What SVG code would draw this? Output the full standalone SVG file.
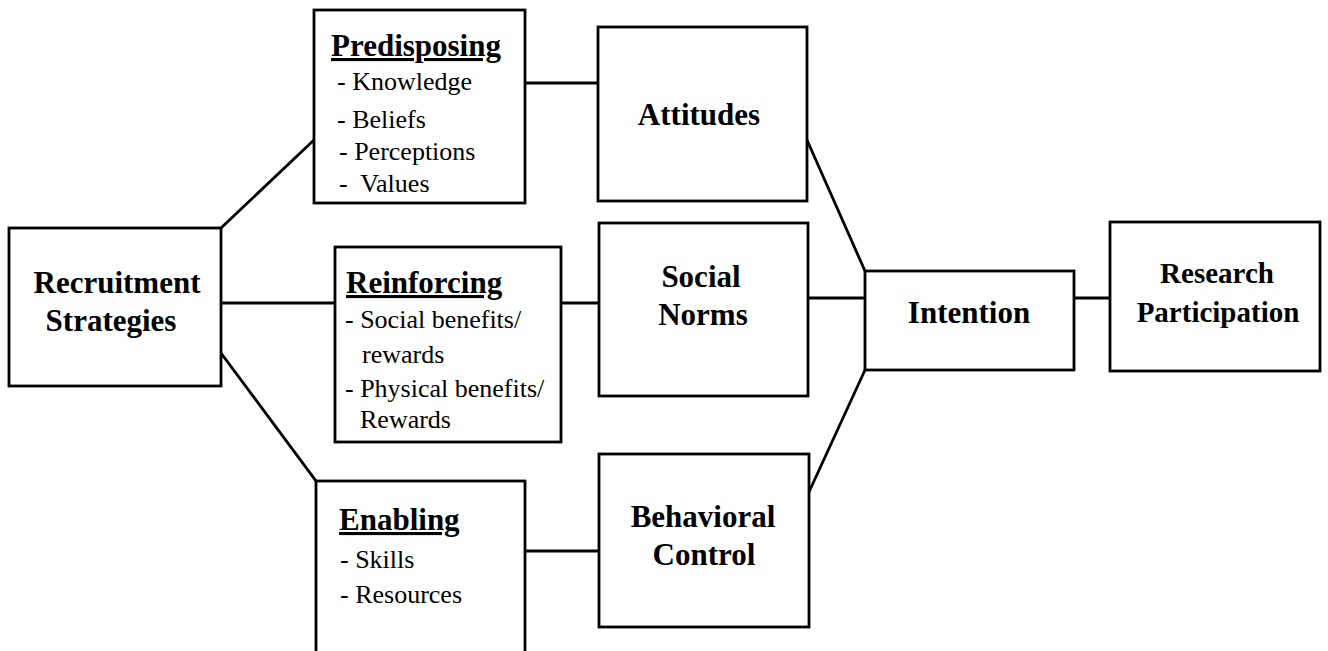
<svg xmlns="http://www.w3.org/2000/svg" width="1328" height="651" viewBox="0 0 1328 651">
<style>
rect.box{fill:#fff;stroke:#000;stroke-width:2.8}
.conn line{stroke:#000;stroke-width:2.8;stroke-linecap:square}
text{font-family:"Liberation Serif","Times New Roman",serif;fill:#000}
.big{font-size:31px;font-weight:bold;text-anchor:middle}
.rp{font-size:29px;font-weight:bold;text-anchor:middle}
.head{font-size:31px;font-weight:bold;text-decoration:underline}
.item{font-size:26px}
</style>
<rect width="1328" height="651" fill="#fff"/>
<g class="conn" id="connectors">
<line x1="221" y1="228" x2="314" y2="140"/>
<line x1="221" y1="303" x2="335" y2="303"/>
<line x1="221" y1="353" x2="316" y2="481"/>
<line x1="525" y1="83" x2="598" y2="83"/>
<line x1="561" y1="303" x2="599" y2="303"/>
<line x1="525" y1="551" x2="599" y2="551"/>
<line x1="807" y1="140" x2="865" y2="271"/>
<line x1="808" y1="298" x2="865" y2="298"/>
<line x1="809" y1="492" x2="865" y2="370"/>
<line x1="1074" y1="298" x2="1110" y2="298"/>
</g>
<g id="recruitment">
<rect class="box" x="9" y="228" width="212" height="158"/>
<text class="big" x="117" y="293">Recruitment</text>
<text class="big" x="111" y="331">Strategies</text>
</g>
<g id="predisposing">
<rect class="box" x="314" y="10" width="211" height="193"/>
<text class="head" x="331" y="56">Predisposing</text>
<text class="item" x="337" y="90">- Knowledge</text>
<text class="item" x="337" y="128">- Beliefs</text>
<text class="item" x="339" y="160">- Perceptions</text>
<text class="item" x="339" y="192" xml:space="preserve">-  Values</text>
</g>
<g id="reinforcing">
<rect class="box" x="335" y="247" width="226" height="195"/>
<text class="head" x="346" y="293">Reinforcing</text>
<text class="item" x="345" y="328">- Social benefits/</text>
<text class="item" x="362" y="363">rewards</text>
<text class="item" x="345" y="397">- Physical benefits/</text>
<text class="item" x="360" y="428">Rewards</text>
</g>
<g id="enabling">
<rect class="box" x="316" y="481" width="209" height="200"/>
<text class="head" x="339" y="530">Enabling</text>
<text class="item" x="340" y="568">- Skills</text>
<text class="item" x="340" y="603">- Resources</text>
</g>
<g id="attitudes">
<rect class="box" x="598" y="27" width="209" height="174"/>
<text class="big" x="699" y="125">Attitudes</text>
</g>
<g id="social-norms">
<rect class="box" x="599" y="223" width="209" height="173"/>
<text class="big" x="701" y="287">Social</text>
<text class="big" x="703" y="325">Norms</text>
</g>
<g id="behavioral-control">
<rect class="box" x="599" y="454" width="210" height="173"/>
<text class="big" x="703" y="527">Behavioral</text>
<text class="big" x="704" y="565">Control</text>
</g>
<g id="intention">
<rect class="box" x="865" y="271" width="209" height="99"/>
<text class="big" x="969" y="323">Intention</text>
</g>
<g id="research-participation">
<rect class="box" x="1110" y="222" width="210" height="149"/>
<text class="rp" x="1217" y="283">Research</text>
<text class="rp" x="1218" y="322">Participation</text>
</g>
</svg>
